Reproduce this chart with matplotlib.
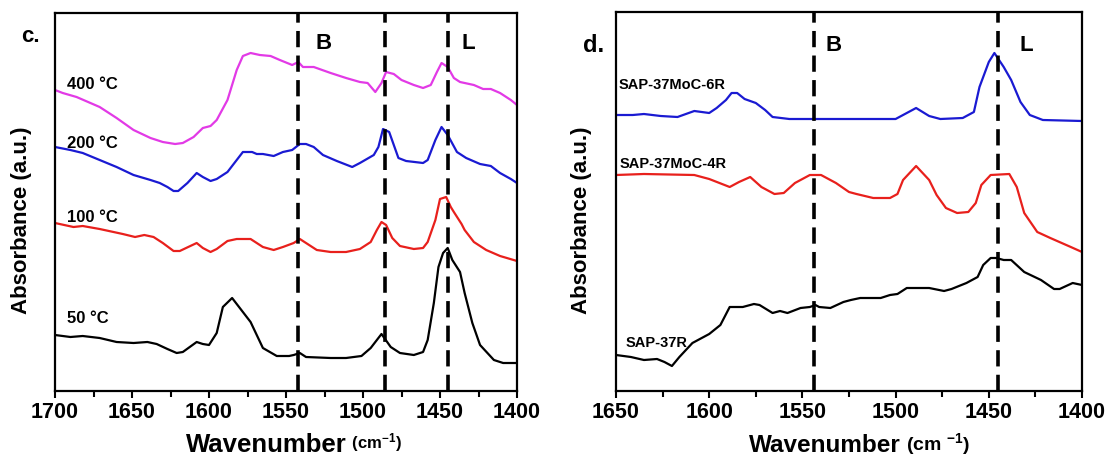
import matplotlib.pyplot as plt
from matplotlib.ticker import MultipleLocator

plt.rcParams['font.family'] = ['Liberation Sans', 'DejaVu Sans']
plt.rcParams['font.weight'] = 'bold'
plt.rcParams['mathtext.default'] = 'regular'

# Panel c: pyridine-IR after desorption at different temperatures (offset a.u.)
wn_400 = [1700, 1695, 1686, 1671, 1660, 1649, 1638, 1630, 1622, 1617, 1610, 1604, 1599, 1595,
          1588, 1582, 1578, 1573, 1567, 1560, 1554, 1546, 1542, 1539, 1532, 1521, 1511, 1502,
          1497, 1492, 1488, 1485, 1480, 1475, 1467, 1461, 1456, 1452, 1449, 1445, 1441, 1437,
          1428, 1422, 1417, 1411, 1404, 1400]
abs_400 = [301, 298, 294, 284, 273, 261, 253, 249, 247, 248, 254, 263, 265, 271,
           291, 321, 335, 338, 336, 335, 331, 326, 329, 324, 324, 318, 313, 309,
           308, 299, 308, 319, 317, 311, 306, 303, 306, 319, 328, 324, 313, 309,
           306, 302, 302, 298, 291, 286]

wn_200 = [1700, 1690, 1682, 1671, 1660, 1649, 1638, 1632, 1627, 1623, 1620, 1614, 1608, 1604,
          1599, 1595, 1588, 1583, 1578, 1572, 1569, 1565, 1558, 1552, 1546, 1541, 1537, 1532,
          1526, 1517, 1507, 1502, 1493, 1490, 1487, 1483, 1477, 1472, 1461, 1458, 1453, 1449,
          1445, 1439, 1433, 1424, 1417, 1411, 1404, 1400]
abs_200 = [244, 241, 238, 231, 224, 216, 211, 208, 204, 200, 200, 208, 218, 214,
           210, 212, 219, 229, 239, 239, 237, 237, 235, 239, 241, 247, 247, 244,
           236, 230, 224, 228, 236, 244, 262, 259, 233, 230, 228, 231, 251, 264,
           256, 239, 233, 227, 225, 218, 212, 208]

wn_100 = [1700, 1688, 1682, 1671, 1656, 1648, 1642, 1636, 1630, 1623, 1619, 1608, 1604, 1599,
          1595, 1588, 1582, 1573, 1565, 1558, 1552, 1545, 1541, 1537, 1530, 1521, 1511, 1502,
          1495, 1491, 1488, 1485, 1481, 1476, 1467, 1461, 1458, 1453, 1450, 1446, 1443, 1441,
          1436, 1434, 1428, 1420, 1411, 1400]
abs_100 = [168, 164, 165, 162, 157, 154, 156, 154, 148, 140, 140, 148, 143, 139,
           142, 150, 152, 152, 144, 141, 144, 148, 152, 148, 141, 139, 139, 142,
           149, 161, 169, 166, 153, 145, 142, 143, 149, 171, 192, 194, 184, 179,
           167, 161, 149, 141, 135, 130]

wn_50 = [1700, 1690, 1682, 1671, 1660, 1649, 1640, 1634, 1627, 1621, 1617, 1608, 1604, 1600,
         1595, 1591, 1585, 1580, 1573, 1565, 1556, 1548, 1545, 1541, 1537, 1521, 1511, 1501,
         1495, 1488, 1482, 1476, 1467, 1461, 1458, 1454, 1451, 1448, 1445, 1442, 1437, 1434,
         1429, 1424, 1415, 1409, 1400]
abs_50 = [56, 54, 55, 53, 49, 48, 49, 47, 42, 38, 39, 49, 47, 46,
          58, 84, 93, 83, 69, 43, 35, 35, 36, 38, 34, 33, 33, 35,
          43, 57, 44, 38, 36, 39, 51, 88, 124, 138, 143, 131, 119, 98,
          68, 46, 31, 28, 28]

# Panel d: reduced catalysts
wn_6r = [1650, 1641, 1635, 1626, 1617, 1614, 1608, 1600, 1596, 1591, 1588, 1585, 1581, 1575,
         1570, 1566, 1557, 1546, 1530, 1512, 1500, 1494, 1489, 1482, 1476, 1464, 1458, 1455,
         1450, 1447, 1442, 1438, 1433, 1428, 1421, 1400]
abs_6r = [276, 276, 277, 275, 274, 276, 280, 278, 283, 291, 298, 298, 292, 288,
          281, 274, 272, 272, 272, 272, 272, 278, 283, 275, 272, 273, 279, 304,
          329, 338, 324, 311, 289, 276, 271, 270]

wn_4r = [1650, 1635, 1608, 1600, 1589, 1584, 1578, 1572, 1565, 1560, 1554, 1546, 1540, 1532,
         1525, 1521, 1512, 1503, 1499, 1496, 1489, 1482, 1478, 1473, 1467, 1461, 1457, 1454,
         1449, 1439, 1435, 1431, 1424, 1417, 1406, 1400]
abs_4r = [216, 217, 216, 212, 204, 209, 214, 204, 197, 198, 208, 216, 216, 208,
          199, 197, 193, 193, 197, 211, 225, 211, 196, 183, 178, 179, 188, 206,
          216, 217, 204, 178, 159, 153, 144, 139]

wn_37r = [1650, 1642, 1635, 1628, 1624, 1620, 1616, 1609, 1605, 1600, 1594, 1589, 1582, 1576,
          1573, 1566, 1562, 1558, 1551, 1546, 1543, 1541, 1535, 1528, 1524, 1519, 1508, 1503,
          1499, 1494, 1482, 1474, 1470, 1462, 1456, 1453, 1449, 1446, 1442, 1438, 1431, 1422,
          1415, 1412, 1405, 1400]
abs_37r = [36, 34, 31, 32, 29, 25, 34, 48, 52, 57, 66, 84, 84, 87,
           86, 78, 80, 78, 83, 84, 86, 84, 83, 89, 91, 93, 93, 96,
           97, 103, 103, 100, 102, 108, 114, 126, 133, 133, 131, 131, 119, 111,
           102, 102, 108, 106]

band_c = [1542, 1486, 1445]
band_d = [1544, 1445]

MAGENTA = '#e23ae6'
BLUE = '#1a1ad2'
RED = '#e8201c'

fig = plt.figure(figsize=(11.1, 4.59), dpi=100)
ax1 = fig.add_axes([55 / 1110, 68 / 459, 462 / 1110, 378 / 459])
ax2 = fig.add_axes([616 / 1110, 68 / 459, 466 / 1110, 379 / 459])


def style_axes(ax, x0, x1, ytop):
    ax.set_xlim(x0, x1)
    ax.set_ylim(0, ytop)
    ax.set_yticks([])
    ax.xaxis.set_major_locator(MultipleLocator(50))
    ax.xaxis.set_minor_locator(MultipleLocator(25))
    ax.tick_params(axis='x', which='major', direction='out', length=5, width=1.5,
                   labelsize=15.5, pad=3)
    ax.tick_params(axis='x', which='minor', direction='out', length=4, width=1.5)
    for s in ax.spines.values():
        s.set_linewidth(1.6)
    for lab in ax.get_xticklabels():
        lab.set_fontweight('bold')


# panel c
ax1.plot(wn_400, abs_400, color=MAGENTA, lw=1.6)
ax1.plot(wn_200, abs_200, color=BLUE, lw=1.6)
ax1.plot(wn_100, abs_100, color=RED, lw=1.6)
ax1.plot(wn_50, abs_50, color='black', lw=1.6)
for b in band_c:
    ax1.axvline(b, color='black', lw=2.6, ls=(0, (4.5, 2.3)))
style_axes(ax1, 1700, 1400, 378)

tk = dict(transform=ax1.transAxes, fontsize=12, fontweight='bold', va='center', ha='left')
ax1.text(0.026, 0.81, '400 °C', **tk)
ax1.text(0.026, 0.656, '200 °C', **tk)
ax1.text(0.026, 0.46, '100 °C', **tk)
ax1.text(0.026, 0.193, '50 °C', **tk)
ax1.text(0.581, 0.918, 'B', transform=ax1.transAxes, fontsize=16, ha='center', va='center')
ax1.text(0.894, 0.918, 'L', transform=ax1.transAxes, fontsize=16, ha='center', va='center')

t1 = fig.text(186 / 1110, 1 - 445 / 459, 'Wavenumber', fontsize=18.5, fontweight='bold',
              ha='left', va='center')
ax1.annotate(' (cm$^{-1}$)', xy=(1, 0.12), xycoords=t1, fontsize=12, fontweight='bold',
             ha='left', va='bottom')

# panel d
ax2.plot(wn_6r, abs_6r, color=BLUE, lw=1.6)
ax2.plot(wn_4r, abs_4r, color=RED, lw=1.6)
ax2.plot(wn_37r, abs_37r, color='black', lw=1.6)
for b in band_d:
    ax2.axvline(b, color='black', lw=2.6, ls=(0, (4.5, 2.3)))
style_axes(ax2, 1650, 1400, 379)

sk = dict(transform=ax2.transAxes, fontsize=10.5, fontweight='bold', va='center', ha='left')
ax2.text(0.006, 0.807, 'SAP-37MoC-6R', **sk)
ax2.text(0.008, 0.60, 'SAP-37MoC-4R', **sk)
ax2.text(0.021, 0.127, 'SAP-37R', **sk)
ax2.text(0.467, 0.911, 'B', transform=ax2.transAxes, fontsize=16, ha='center', va='center')
ax2.text(0.881, 0.911, 'L', transform=ax2.transAxes, fontsize=16, ha='center', va='center')

t2 = fig.text(749 / 1110, 1 - 446 / 459, 'Wavenumber', fontsize=17.5, fontweight='bold',
              ha='left', va='center')
ax2.annotate(' (cm $^{-1}$)', xy=(1, 0), xycoords=t2, fontsize=14, fontweight='bold',
             ha='left', va='bottom')

# shared-style annotations
fig.text(22 / 1110, 1 - 220 / 459, 'Absorbance (a.u.)', rotation=90, fontsize=16,
         fontweight='bold', ha='center', va='center')
fig.text(582 / 1110, 1 - 220 / 459, 'Absorbance (a.u.)', rotation=90, fontsize=16,
         fontweight='bold', ha='center', va='center')
fig.text(30 / 1110, 1 - 36 / 459, 'c.', fontsize=16, fontweight='bold', ha='center', va='center')
fig.text(594 / 1110, 1 - 45 / 459, 'd.', fontsize=17, fontweight='bold', ha='center', va='center')

fig.savefig('out.png', dpi=100)
